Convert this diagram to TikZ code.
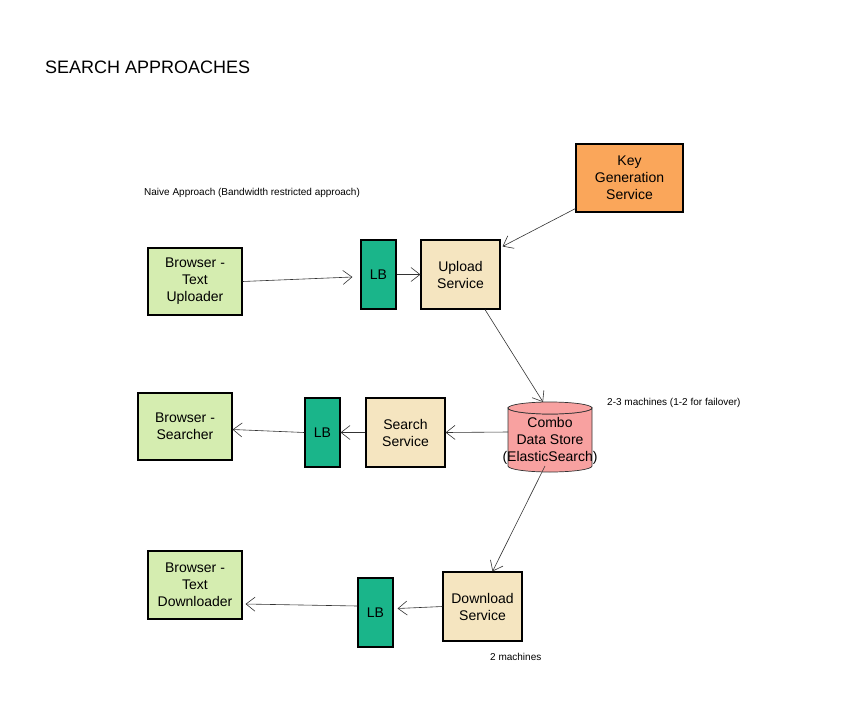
\documentclass[tikz,border=0pt]{standalone}
\usepackage{fontspec}
\setmainfont{Liberation Sans}
\usetikzlibrary{arrows.meta}
\definecolor{cOrange}{RGB}{250,166,90}
\definecolor{cGreen}{RGB}{213,237,176}
\definecolor{cLB}{RGB}{26,181,138}
\definecolor{cBeige}{RGB}{245,229,192}
\definecolor{cPink}{RGB}{248,161,160}
\definecolor{cLine}{RGB}{51,51,51}
\tikzset{
  box/.style={draw=black, line width=1.1pt, align=center, inner sep=0pt, font=\fontsize{14}{17}\selectfont},
  lbbox/.style={box, fill=cLB, minimum width=35pt, minimum height=69pt},
  svc/.style={box, fill=cBeige, minimum width=79pt, minimum height=69pt},
  brw/.style={box, fill=cGreen, minimum width=94pt, minimum height=67pt},
  arr/.style={draw=cLine, line width=0.6pt, -{Straight Barb[length=9pt,width=14pt,line width=0.6pt]}},
  note/.style={anchor=west, inner sep=0pt, font=\fontsize{10}{12}\selectfont}
}
\begin{document}
\begin{tikzpicture}[x=1pt,y=-1pt]
\useasboundingbox (0,0) rectangle (854,705);
\node[anchor=west, inner sep=0pt, font=\fontsize{18}{21}\selectfont] (title) at (45,67) {SEARCH APPROACHES};
\node[note] (naive) at (144,193) {Naive Approach (Bandwidth restricted approach)};
\node[box, fill=cOrange, minimum width=107pt, minimum height=68pt] (key) at (629.5,178) {Key\\Generation\\Service};
\node[brw] (up) at (195,281.5) {Browser -\\Text\\Uploader};
\node[lbbox] (lb1) at (378.5,274.5) {LB};
\node[svc] (upsvc) at (460.5,274.5) {Upload\\Service};
\node[svc] (srch) at (405.5,432.5) {Search\\Service};
\node[lbbox] (lb2) at (322.5,432.5) {LB};
\node[brw] (bsearch) at (185,426.5) {Browser -\\Searcher};
\node[svc] (dl) at (482.5,606.5) {Download\\Service};
\node[lbbox] (lb3) at (375.5,612.5) {LB};
\node[brw, minimum height=68pt] (bdown) at (195,585) {Browser -\\Text\\Downloader};
% cylinder
\filldraw[fill=cPink, draw=cLine, line width=0.7pt] (508,408) arc[start angle=180, end angle=360, x radius=42pt, y radius=6pt] -- (592,466) arc[start angle=0, end angle=-180, x radius=42pt, y radius=6pt] -- cycle;
\filldraw[fill=cPink, draw=cLine, line width=0.7pt] (550,408) ellipse[x radius=42pt, y radius=6pt];
\node[align=center, inner sep=0pt, font=\fontsize{14}{17}\selectfont] (db) at (550,441) {Combo\\Data Store\\(ElasticSearch)};
\coordinate (dbtop) at (543,402);
\coordinate (dbleft) at (508,432);
\coordinate (dbbot) at (545,466);
\node[note] (m23) at (607,403) {2-3 machines (1-2 for failover)};
\node[note] (m2) at (490,657) {2 machines};
% arrows
\draw[arr] (up.east) -- ([xshift=-8pt,yshift=-2.5pt]lb1.west);
\draw[arr] (lb1.east) -- (upsvc.west);
\draw[arr] ([yshift=4pt]key.south west) -- ([xshift=2pt,yshift=-7pt]upsvc.north east);
\draw[arr] ([xshift=24.5pt]upsvc.south) -- (dbtop);
\draw[arr] (dbleft) -- (srch.east);
\draw[arr] (srch.west) -- (lb2.east);
\draw[arr] (lb2.west) -- ([yshift=-3pt]bsearch.east);
\draw[arr] (dbbot) -- ([xshift=10pt]dl.north);
\draw[arr] (dl.west) -- ([xshift=4pt,yshift=4pt]lb3.east);
\draw[arr] ([yshift=6.5pt]lb3.west) -- ([xshift=3pt,yshift=-19pt]bdown.east);
\end{tikzpicture}
\end{document}
